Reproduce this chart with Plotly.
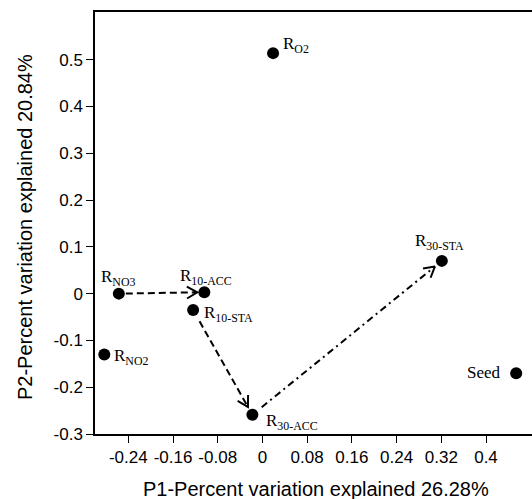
import math
import plotly.graph_objects as go

# ---- data ----
names = ["R<sub>O2</sub>", "R<sub>NO3</sub>", "R<sub>10-ACC</sub>", "R<sub>10-STA</sub>",
         "R<sub>NO2</sub>", "R<sub>30-ACC</sub>", "R<sub>30-STA</sub>", "Seed"]
p1 = [0.019, -0.257, -0.104, -0.124, -0.283, -0.018, 0.321, 0.454]
p2 = [0.514, 0.000, 0.003, -0.035, -0.130, -0.259, 0.070, -0.170]
# trajectory arrows: (from index, to index)
arrow_pairs = [(1, 2), (3, 5), (5, 6)]
x_ticks = [-0.24, -0.16, -0.08, 0, 0.08, 0.16, 0.24, 0.32, 0.4]
x_ticktext = ["-0.24", "-0.16", "-0.08", "0", "0.08", "0.16", "0.24", "0.32", "0.4"]
y_ticks = [-0.3, -0.2, -0.1, 0, 0.1, 0.2, 0.3, 0.4, 0.5]
y_ticktext = ["-0.3", "-0.2", "-0.1", "0", "0.1", "0.2", "0.3", "0.4", "0.5"]
x_title = "P1-Percent variation explained 26.28%"
y_title = "P2-Percent variation explained 20.84%"

# ---- layout geometry ----
W, H = 532, 499
ML, MR, MT, MB = 95, 0, 12, 65
PW, PH = W - ML - MR, H - MT - MB
XR = [-0.2996, 0.4823]
YR = [-0.3, 0.6019]

def to_px(x, y):
    return (ML + (x - XR[0]) / (XR[1] - XR[0]) * PW,
            MT + (YR[1] - y) / (YR[1] - YR[0]) * PH)

def to_data(px, py):
    return (XR[0] + (px - ML) / PW * (XR[1] - XR[0]),
            YR[1] - (py - MT) / PH * (YR[1] - YR[0]))

fig = go.Figure()

arrow_styles = [("7px,4px", 7, 7), ("7px,4px", 13, 9), ("7px,4px,2px,4px", 12, 9)]
for (a, b), (dash, gap0, gap1) in zip(arrow_pairs, arrow_styles):
    ax, ay = to_px(p1[a], p2[a])
    bx, by = to_px(p1[b], p2[b])
    d = math.hypot(bx - ax, by - ay)
    ux, uy = (bx - ax) / d, (by - ay) / d
    tx, ty = ax + ux * gap0, ay + uy * gap0
    hx, hy = bx - ux * gap1, by - uy * gap1
    s = to_data(tx, ty)
    e = to_data(hx, hy)
    fig.add_trace(go.Scatter(x=[s[0], e[0]], y=[s[1], e[1]], mode="lines",
                             line=dict(color="black", width=2, dash=dash),
                             hoverinfo="skip", showlegend=False))
    L, ang = 12, math.radians(30)
    pts = []
    for sgn in (1, -1):
        c, sn = math.cos(sgn * ang), math.sin(sgn * ang)
        bxv, byv = -ux, -uy
        vx = bxv * c - byv * sn
        vy = bxv * sn + byv * c
        pts.append(to_data(hx + vx * L, hy + vy * L))
    fig.add_trace(go.Scatter(x=[pts[0][0], e[0], pts[1][0]], y=[pts[0][1], e[1], pts[1][1]],
                             mode="lines", line=dict(color="black", width=2),
                             hoverinfo="skip", showlegend=False))

fig.add_trace(go.Scatter(x=p1, y=p2, mode="markers",
                         marker=dict(color="black", size=12),
                         hoverinfo="skip", showlegend=False))

# label placement: (xanchor, yanchor, xshift, yshift)
label_pos = [("left", "middle", 8, 8), ("center", "middle", 0, 16),
             ("center", "middle", 2, 15), ("left", "middle", 9, -4),
             ("left", "middle", 8, -3), ("left", "middle", 12, -7),
             ("center", "middle", -2, 19), ("right", "middle", -13, 1)]
for n, x, y, (xa, ya, xs, ys) in zip(names, p1, p2, label_pos):
    fig.add_annotation(x=x, y=y, text=n, showarrow=False, xanchor=xa, yanchor=ya,
                       xshift=xs, yshift=ys,
                       font=dict(family="Liberation Serif, Times New Roman, serif",
                                 size=17, color="black"))

fig.add_annotation(x=0.5, y=0, xref="paper", yref="paper", text=x_title,
                   showarrow=False, xanchor="center", yanchor="middle", yshift=-55,
                   xshift=2,
                   font=dict(family="Liberation Sans, Arial, sans-serif", size=20, color="black"))
fig.add_annotation(x=0, y=0.5, xref="paper", yref="paper", text=y_title, textangle=-90,
                   showarrow=False, xanchor="center", yanchor="middle", xshift=-70,
                   yshift=-4,
                   font=dict(family="Liberation Sans, Arial, sans-serif", size=20, color="black"))

axis_font = dict(family="Liberation Sans, Arial, sans-serif", size=17, color="black")
fig.update_layout(
    width=W, height=H, margin=dict(l=ML, r=MR, t=MT, b=MB),
    paper_bgcolor="white", plot_bgcolor="white",
    xaxis=dict(range=XR, tickvals=x_ticks, ticktext=x_ticktext, showgrid=False,
               zeroline=False, showline=True, linecolor="black", linewidth=1.5,
               mirror=True, ticks="outside", ticklen=7, tickwidth=1, tickcolor="black",
               tickfont=axis_font),
    yaxis=dict(range=YR, tickvals=y_ticks, ticktext=y_ticktext, showgrid=False,
               zeroline=False, showline=True, linecolor="black", linewidth=1.5,
               ticks="outside", ticklen=7, tickwidth=1, tickcolor="black",
               tickfont=axis_font),
)

fig.write_html("out.html")
